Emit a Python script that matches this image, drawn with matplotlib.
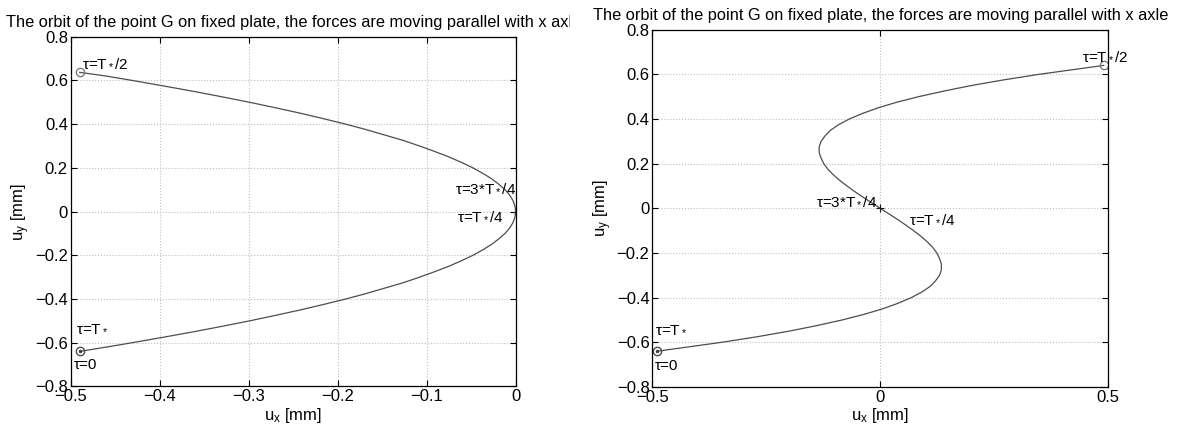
import matplotlib
matplotlib.use("Agg")
import matplotlib.pyplot as plt
from matplotlib.transforms import Bbox

plt.rcParams['font.family'] = ['Liberation Sans', 'DejaVu Sans']
plt.rcParams['mathtext.fontset'] = 'custom'
plt.rcParams['mathtext.rm'] = 'Liberation Sans'
plt.rcParams['mathtext.it'] = 'Liberation Sans'

TITLE = "The orbit of the point G on fixed plate, the forces are moving parallel with x axle"

# orbit with forces parallel to x (tau = 0 .. T*/2)
left_uy = [-0.64, -0.62, -0.60, -0.575, -0.55, -0.525, -0.50, -0.475, -0.45, -0.425,
           -0.40, -0.375, -0.35, -0.325, -0.30, -0.275, -0.25, -0.225, -0.20, -0.175,
           -0.15, -0.125, -0.10, -0.075, -0.05, -0.025, 0.0,
           0.025, 0.05, 0.075, 0.10, 0.125, 0.15, 0.175, 0.20, 0.225, 0.25, 0.275,
           0.30, 0.325, 0.35, 0.375, 0.40, 0.425, 0.45, 0.475, 0.50, 0.525, 0.55,
           0.575, 0.60, 0.62, 0.637]
left_ux = [-0.490, -0.460, -0.431, -0.396, -0.362, -0.330, -0.299, -0.270, -0.242, -0.216,
           -0.191, -0.168, -0.147, -0.126, -0.108, -0.091, -0.075, -0.061, -0.048, -0.037,
           -0.027, -0.019, -0.012, -0.0067, -0.003, -0.0008, 0.0,
           -0.0008, -0.003, -0.0067, -0.012, -0.019, -0.027, -0.037, -0.048, -0.061,
           -0.075, -0.091, -0.108, -0.126, -0.147, -0.168, -0.191, -0.216, -0.242,
           -0.270, -0.299, -0.330, -0.362, -0.396, -0.431, -0.460, -0.490]

right_uy = [-0.64, -0.60, -0.575, -0.55, -0.525, -0.50, -0.475, -0.45, -0.425, -0.40,
            -0.375, -0.35, -0.325, -0.30, -0.275, -0.25, -0.225, -0.20, -0.175, -0.15,
            -0.125, -0.10, -0.075, -0.05, -0.025, 0.0,
            0.025, 0.05, 0.075, 0.10, 0.125, 0.15, 0.175, 0.20, 0.225, 0.25, 0.275,
            0.30, 0.325, 0.35, 0.375, 0.40, 0.425, 0.45, 0.475, 0.50, 0.525, 0.55,
            0.575, 0.60, 0.64]
right_ux = [-0.490, -0.348, -0.270, -0.200, -0.139, -0.084, -0.036, 0.005, 0.039, 0.068,
            0.091, 0.109, 0.121, 0.130, 0.134, 0.134, 0.130, 0.124, 0.115, 0.103,
            0.089, 0.073, 0.056, 0.038, 0.019, 0.0,
            -0.019, -0.038, -0.056, -0.073, -0.089, -0.103, -0.115, -0.124, -0.130,
            -0.134, -0.134, -0.130, -0.121, -0.109, -0.091, -0.068, -0.039, -0.005,
            0.036, 0.084, 0.139, 0.200, 0.270, 0.348, 0.490]

# (text, x, y) for each plot
left_labels = [(r"τ=T$_*$/2", -0.487, 0.663),
               (r"τ=3*T$_*$/4", -0.068, 0.091),
               (r"τ=T$_*$/4", -0.066, -0.039),
               (r"τ=T$_*$", -0.494, -0.550),
               (r"τ=0", -0.496, -0.718)]
right_labels = [(r"τ=T$_*$/2", 0.443, 0.664),
                (r"τ=3*T$_*$/4", -0.141, 0.015),
                (r"τ=T$_*$/4", 0.063, -0.067),
                (r"τ=T$_*$", -0.495, -0.560),
                (r"τ=0", -0.495, -0.724)]

left_xticks = [-0.5, -0.4, -0.3, -0.2, -0.1, 0]
right_xticks = [-0.5, 0, 0.5]
yticks = [-0.8, -0.6, -0.4, -0.2, 0, 0.2, 0.4, 0.6, 0.8]

fig = plt.figure(figsize=(11.79, 4.32), dpi=100)
ax1 = fig.add_axes([0.0600, 0.1055, 0.3774, 0.8095])
ax2 = fig.add_axes([0.5533, 0.1042, 0.3867, 0.8271])


def style(ax, ux, uy, xticks, labels):
    ax.plot(ux, uy, color='0.3', lw=0.9)
    ax.plot(ux[0], uy[0], 'o', mfc='none', mec='0.3', ms=6, mew=1.0)
    ax.plot(ux[0], uy[0], '.', color='0.25', ms=3)
    ax.plot(ux[-1], uy[-1], 'o', mfc='none', mec='0.45', ms=6, mew=0.9)
    ax.plot(0, 0, '+', color='0.1', ms=6, mew=0.8)
    for txt, x, y in labels:
        ax.text(x, y, txt, fontsize=11, va='baseline', ha='left')
    ax.set_xlim(xticks[0], xticks[-1])
    ax.set_ylim(-0.8, 0.8)
    ax.set_xticks(xticks)
    ax.set_yticks(yticks)
    ax.set_xticklabels([f"{t:g}".replace('-', '\u2212') for t in xticks])
    ax.set_yticklabels([f"{t:g}".replace('-', '\u2212') for t in yticks])
    ax.tick_params(direction='in', top=True, right=True, labelsize=12,
                   length=4, width=0.8, pad=2)
    ax.grid(True, ls=':', color='0.75', lw=0.8)
    for s in ax.spines.values():
        s.set_linewidth(0.9)
    ax.set_xlabel(r"u$_x$ [mm]", fontsize=12, labelpad=1)
    ax.set_ylabel(r"u$_y$ [mm]", fontsize=12, labelpad=2)
    return ax.set_title(TITLE, fontsize=11.8, pad=7)


t1 = style(ax1, left_ux, left_uy, left_xticks, left_labels)
t2 = style(ax2, right_ux, right_uy, right_xticks, right_labels)

# the left picture is cut where the right one starts
t1.set_clip_box(Bbox.from_extents(0, 0, 570, 432))
t1.set_clip_on(True)

fig.savefig("out.png", dpi=100)
